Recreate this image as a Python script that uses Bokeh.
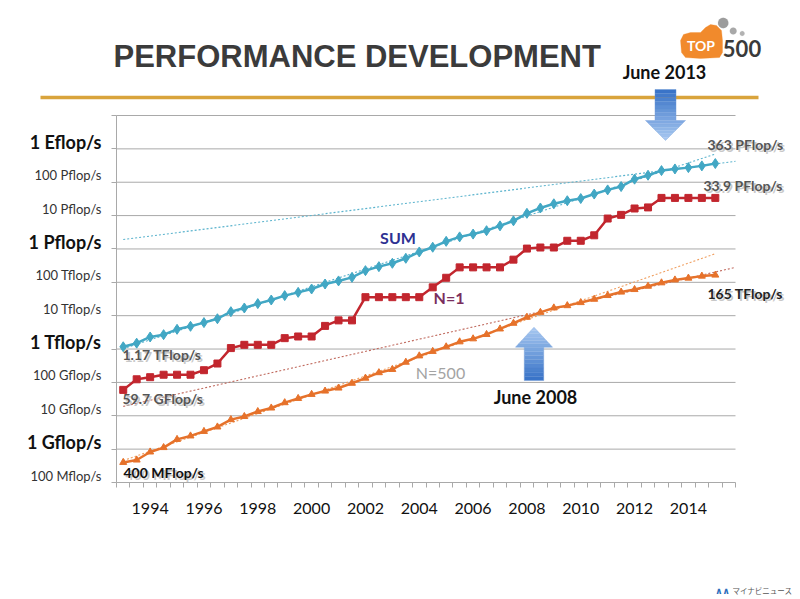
import numpy as np
from bokeh.plotting import figure
from bokeh.models import (Range1d, FixedTicker, ColumnDataSource, Label,
                          PolyAnnotation, Arrow, CustomJSTickFormatter, LogAxis,
                          LinearAxis)
from bokeh.embed import file_html
from bokeh.resources import INLINE

# ---------------- data (TOP500 lists, values in TFlop/s) ----------------
list_dates = ["1993-06", "1993-11", "1994-06", "1994-11", "1995-06", "1995-11",
              "1996-06", "1996-11", "1997-06", "1997-11", "1998-06", "1998-11",
              "1999-06", "1999-11", "2000-06", "2000-11", "2001-06", "2001-11",
              "2002-06", "2002-11", "2003-06", "2003-11", "2004-06", "2004-11",
              "2005-06", "2005-11", "2006-06", "2006-11", "2007-06", "2007-11",
              "2008-06", "2008-11", "2009-06", "2009-11", "2010-06", "2010-11",
              "2011-06", "2011-11", "2012-06", "2012-11", "2013-06", "2013-11",
              "2014-06", "2014-11", "2015-06"]

sum_tflops = [1.17, 1.5, 2.3, 2.7, 3.9, 4.8, 6.2, 8.1, 13.2, 17.0, 23.0, 29.5,
              40.0, 50.0, 63.0, 89.0, 110.0, 141.0, 224.0, 295.0, 372.0, 525.0,
              813.0, 1127.0, 1690.0, 2300.0, 2790.0, 3530.0, 4920.0, 6970.0,
              11700.0, 16900.0, 22600.0, 27900.0, 32400.0, 44200.0, 58900.0,
              74200.0, 123400.0, 162000.0, 223000.0, 250000.0, 274000.0,
              309000.0, 363000.0]

n1_tflops = [0.0597, 0.124, 0.1434, 0.170, 0.170, 0.170, 0.2324, 0.3682, 1.068,
             1.338, 1.338, 1.338, 2.121, 2.379, 2.379, 4.938, 7.226, 7.226,
             35.86, 35.86, 35.86, 35.86, 35.86, 70.72, 136.8, 280.6, 280.6,
             280.6, 280.6, 478.2, 1026.0, 1105.0, 1105.0, 1759.0, 1759.0,
             2566.0, 8162.0, 10510.0, 16320.0, 17590.0, 33860.0, 33860.0,
             33860.0, 33860.0, 33860.0]

n500_tflops = [0.0004, 0.000472, 0.000822, 0.001114, 0.00196, 0.00249, 0.0034,
               0.00462, 0.00767, 0.00951, 0.0134, 0.0171, 0.0247, 0.0331,
               0.0438, 0.0551, 0.0678, 0.0943, 0.1343, 0.1958, 0.2451, 0.4034,
               0.624, 0.851, 1.166, 1.646, 2.026, 2.737, 4.005, 5.929, 9.0,
               12.6, 17.1, 20.0, 24.7, 31.1, 40.2, 51.0, 60.8, 76.5, 96.6,
               117.8, 133.7, 153.4, 164.8]

x_tick_years = [1994, 1996, 1998, 2000, 2002, 2004, 2006, 2008, 2010, 2012, 2014]

y_tick_values = [1e8, 1e9, 1e10, 1e11, 1e12, 1e13, 1e14, 1e15, 1e16, 1e17, 1e18, 1e19]
y_tick_labels = ["100 Mflop/s", "1 Gflop/s", "10 Gflop/s", "100 Gflop/s",
                 "1 Tflop/s", "10 Tflop/s", "100 Tflop/s", "1 Pflop/s",
                 "10 Pflop/s", "100 Pflop/s", "1 Eflop/s", ""]
y_tick_major = [False, True, False, False, True, False, False, True, False,
                False, True, False]

# trend fits: (first list index, last list index used for the fit)
trend_sum_old = (0, 39)
trend_sum_new = (40, 44)
trend_n500_old = (0, 29)
trend_n500_new = (30, 44)

# ---------------- geometry ----------------
x = np.array([int(d[:4]) + (0.0 if d[5:] == "06" else 0.5) for d in list_dates])
to_flops = 1e12
y_sum = np.array(sum_tflops) * to_flops
y_n1 = np.array(n1_tflops) * to_flops
y_n500 = np.array(n500_tflops) * to_flops

X_START, X_END = x[0] - 0.25, x[-1] + 0.75
Y_LO, Y_HI = y_tick_values[0], y_tick_values[-1]

W, H = 800, 599
FL, FR, FT, FB = 116, 735, 115, 482          # chart area edges in page px
LLO, LHI = np.log10(Y_LO), np.log10(Y_HI)
PXD = (FB - FT) / (LHI - LLO)                 # px per decade


def X(px):
    return X_START + (px - FL) / (FR - FL) * (X_END - X_START)


def Y(py):
    return 10 ** (LLO + (FB - py) / PXD)


p = figure(width=W, height=H, output_backend="svg", toolbar_location=None,
           x_range=Range1d(X(0), X(W)), y_range=Range1d(Y(H), Y(0)),
           y_axis_type="log", x_axis_location=None, y_axis_location=None,
           title=None, min_border=0)
p.outline_line_color = None
p.background_fill_color = "white"
p.border_fill_color = "white"
p.xgrid.visible = False
p.ygrid.visible = False

GRID = "#a9a9a9"
FONT = "Lato"

# horizontal grid lines at every decade tick
gsrc = ColumnDataSource(dict(y=y_tick_values[1:],
                             x0=[X_START] * (len(y_tick_values) - 1),
                             x1=[X_END] * (len(y_tick_values) - 1)))
p.segment(x0="x0", x1="x1", y0="y", y1="y", source=gsrc, line_color=GRID,
          line_width=1)

# x axis
xa = LinearAxis(fixed_location=Y_LO, bounds=(X_START, X_END),
                ticker=FixedTicker(ticks=x_tick_years,
                                   minor_ticks=list(np.arange(X_START, X_END + 0.01, 0.5))))
xa.major_tick_out = 0
xa.major_tick_in = 0
xa.minor_tick_out = 5
xa.minor_tick_in = 0
xa.minor_tick_line_color = GRID
xa.axis_line_color = GRID
xa.major_label_text_font = FONT
xa.major_label_text_font_size = "16px"
xa.major_label_text_color = "#111111"
xa.major_label_standoff = 15
p.add_layout(xa, "below")

# y axis (line + ticks)
ya = LogAxis(fixed_location=X_START, bounds=(Y_LO, Y_HI),
             ticker=FixedTicker(ticks=y_tick_values, minor_ticks=[]),
             formatter=CustomJSTickFormatter(code="return ''"))
ya.major_tick_out = 5
ya.major_tick_in = 0
ya.major_tick_line_color = GRID
ya.axis_line_color = GRID
p.add_layout(ya, "left")

# y tick labels: sit 7 px above their grid line, as on the slide
LIFT = 10 ** (7 / PXD)
p.extra_y_ranges = {"ylab": Range1d(Y(H) / LIFT, Y(0) / LIFT)}
for major, size, style, color in [(True, "18px", "bold", "#111111"),
                                  (False, "13px", "normal", "#333333")]:
    sel = [i for i, m in enumerate(y_tick_major) if m == major and y_tick_labels[i]]
    la = LogAxis(y_range_name="ylab", fixed_location=X_START,
                 ticker=FixedTicker(ticks=[y_tick_values[i] for i in sel], minor_ticks=[]),
                 major_label_overrides={y_tick_values[i]: y_tick_labels[i] for i in sel})
    la.axis_line_color = None
    la.major_tick_line_color = None
    la.minor_tick_line_color = None
    la.major_tick_out = 0
    la.major_tick_in = 0
    la.major_label_standoff = 15
    la.major_label_text_font = FONT
    la.major_label_text_font_size = size
    la.major_label_text_font_style = style
    la.major_label_text_color = color
    p.add_layout(la, "left")


# ---------------- trend lines ----------------
def trend(yv, idx, x_end):
    i0, i1 = idx
    k, b = np.polyfit(x[i0:i1 + 1], np.log10(yv[i0:i1 + 1]), 1)
    xs = np.array([x[0], x_end])
    return xs, 10 ** (k * xs + b)


SUM_C, N1_C, N500_C = "#42a7c4", "#c2262e", "#e6722b"

for yv, idx, xe, col in [(y_sum, trend_sum_old, x[-1], "#5ab3cd"),
                         (y_sum, trend_sum_new, X_END, "#5ab3cd"),
                         (y_n500, trend_n500_old, x[-1], "#f0a062"),
                         (y_n500, trend_n500_new, X_END, "#c06a5e")]:
    xs, ys = trend(yv, idx, xe)
    p.line(xs, ys, line_color=col, line_width=1.1, line_dash="2 2")

# ---------------- series ----------------
src = ColumnDataSource(dict(x=x, s=y_sum, n1=y_n1, n500=y_n500))
p.line("x", "n500", source=src, line_color=N500_C, line_width=2.5)
p.scatter("x", "n500", source=src, marker="triangle", size=7, color=N500_C)
p.line("x", "n1", source=src, line_color=N1_C, line_width=2.5)
p.scatter("x", "n1", source=src, marker="square", size=7, color=N1_C)
p.line("x", "s", source=src, line_color=SUM_C, line_width=2.5)
p.scatter("x", "s", source=src, marker="diamond", size=10, color=SUM_C)


def lab(text, px, py, size, color, style="bold", align="left", font=FONT,
        shadow=False, baseline="middle"):
    if shadow:
        p.add_layout(Label(x=X(px + 2), y=Y(py + 2), text=text, text_align=align,
                           text_baseline=baseline, text_font=font,
                           text_font_size=size, text_font_style=style,
                           text_color="#b0b0b0", text_alpha=0.7))
    p.add_layout(Label(x=X(px), y=Y(py), text=text, text_align=align,
                       text_baseline=baseline, text_font=font,
                       text_font_size=size, text_font_style=style,
                       text_color=color))


def poly(pts, fill, line=None, lw=1.0, alpha=1.0):
    p.add_layout(PolyAnnotation(xs=[X(a) for a, b in pts], ys=[Y(b) for a, b in pts],
                                fill_color=fill, fill_alpha=alpha if fill else 0,
                                line_color=line, line_width=lw))


def circle(cx, cy, r, fill):
    t = np.linspace(0, 2 * np.pi, 24, endpoint=False)
    poly(list(zip(cx + r * np.cos(t), cy + r * np.sin(t))), fill, fill, 0.5)


# ---------------- header ----------------
p.add_layout(Arrow(x_start=X(40), y_start=Y(97), x_end=X(758), y_end=Y(97),
                   end=None, line_color="#d9a43c", line_width=3.5))
lab("PERFORMANCE DEVELOPMENT", 113, 56, "31px", "#3b3b3b",
    font="Liberation Sans")

# TOP500 logo
poly([(680, 40), (683, 34), (690, 32), (700, 32), (705, 27), (710, 24), (716, 25),
      (721, 30), (722, 40), (722, 52), (719, 57), (700, 58), (685, 57), (681, 52)],
     "#f18a2c", "#f18a2c")
circle(722.7, 22.5, 5.2, "#9c9c9c")
circle(732.7, 30.5, 3.4, "#a8a8a8")
circle(741.7, 33.0, 2.4, "#b2b2b2")
lab("TOP", 700.5, 44.5, "14px", "white", align="center")
lab("500", 741.5, 47.5, "22px", "#3a3a3a", align="center")


# ---------------- arrows ----------------
def mix(c1, c2, t):
    a = [int(c1[i:i + 2], 16) for i in (1, 3, 5)]
    b = [int(c2[i:i + 2], 16) for i in (1, 3, 5)]
    return "#%02x%02x%02x" % tuple(int(round(u + (v - u) * t)) for u, v in zip(a, b))


def block_arrow(cx, tip, base, tail, hh, sh, c_tip="#a9c9f1", c_tail="#3671c6"):
    L = abs(tail - tip)
    nh, ns = 6, 8
    for k in range(nh):
        y0 = tip + (base - tip) * k / nh
        y1 = tip + (base - tip) * (k + 1) / nh
        w0, w1 = hh * k / nh, hh * (k + 1) / nh
        c = mix(c_tip, c_tail, abs((y0 + y1) / 2 - tip) / L)
        poly([(cx - w0, y0), (cx + w0, y0), (cx + w1, y1), (cx - w1, y1)], c, c, 0.6)
    for k in range(ns):
        y0 = base + (tail - base) * k / ns
        y1 = base + (tail - base) * (k + 1) / ns
        c = mix(c_tip, c_tail, abs((y0 + y1) / 2 - tip) / L)
        poly([(cx - sh, y0), (cx + sh, y0), (cx + sh, y1), (cx - sh, y1)], c, c, 0.6)
    poly([(cx, tip), (cx + hh, base), (cx + sh, base), (cx + sh, tail),
          (cx - sh, tail), (cx - sh, base), (cx - hh, base)], None, "#7aa3dc", 1.0)


block_arrow(665, 140, 120, 89, 20, 10.5)
block_arrow(533.5, 326.7, 346.7, 380, 18.5, 9.7)
lab("June 2013", 664, 71.5, "18px", "#111111", align="center")
lab("June 2008", 535, 396, "18px", "#111111", align="center")

# ---------------- series / value labels ----------------
lab("SUM", 397.5, 237, "16px", "#2e3192", align="center")
lab("N=1", 448.5, 297, "16px", "#7a2e5e", align="center")
lab("N=500", 440, 371.5, "16px", "#a3a3a3", style="normal", align="center")

lab("363 PFlop/s", 707, 144, "14px", "#555555", shadow=True)
lab("33.9 PFlop/s", 703, 185, "14px", "#555555", shadow=True)
lab("165 TFlop/s", 707, 293, "14px", "#222222", shadow=True)
lab("1.17 TFlop/s", 122, 353.5, "14px", "#555555", shadow=True)
lab("59.7 GFlop/s", 122, 398, "14px", "#555555", shadow=True)
lab("400 MFlop/s", 123, 471.5, "14px", "#111111", shadow=True)

# source mark
lab("\u2227\u2227", 722, 590, "9px", "#2a6ebb", align="center", font="DejaVu Sans")
lab("マイナビニュース", 732, 590, "7.5px", "#555555", style="normal",
    font="Noto Sans CJK JP")

open("out.html", "w").write(file_html(p, INLINE))
